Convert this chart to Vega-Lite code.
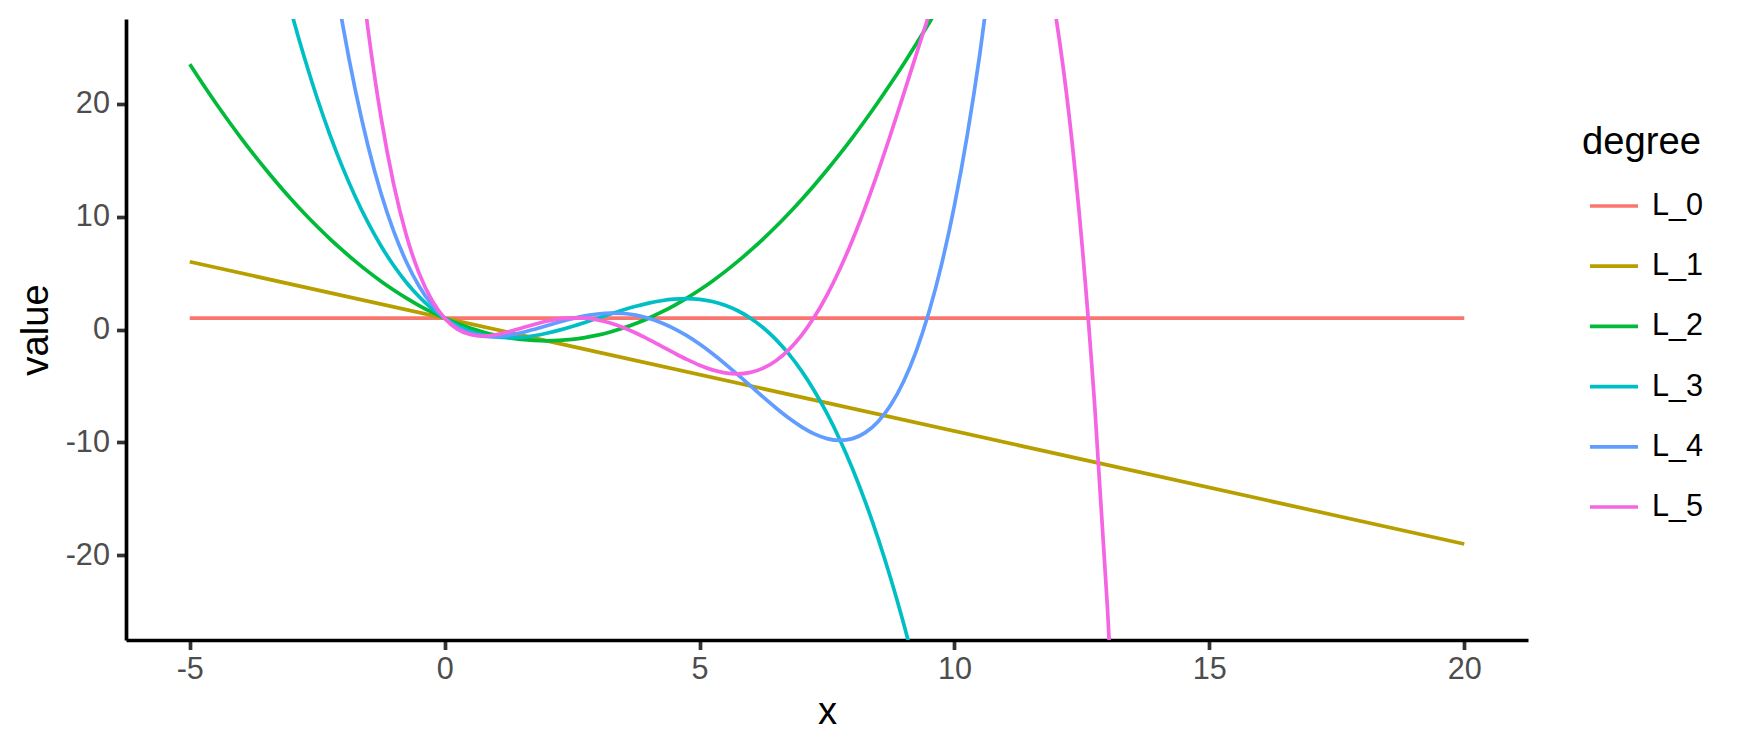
{
  "$schema": "https://vega.github.io/schema/vega-lite/v6.json",
  "width": 1402,
  "height": 621,
  "autosize": {"type": "none"},
  "padding": {"left": 126, "top": 19, "right": 222, "bottom": 110},
  "background": "white",
  "config": {"view": {"stroke": null}, "font": "Liberation Sans"},
  "data": {"values": [
    {"degree": "L_0", "x": -5, "value": 1},
    {"degree": "L_0", "x": 20, "value": 1},
    {"degree": "L_1", "x": -5, "value": 6},
    {"degree": "L_1", "x": 20, "value": -19},
    {"degree": "L_2", "x": -5, "value": 23.5},
    {"degree": "L_2", "x": -4.75, "value": 21.7813},
    {"degree": "L_2", "x": -4.5, "value": 20.125},
    {"degree": "L_2", "x": -4.25, "value": 18.5313},
    {"degree": "L_2", "x": -4, "value": 17},
    {"degree": "L_2", "x": -3.75, "value": 15.5313},
    {"degree": "L_2", "x": -3.5, "value": 14.125},
    {"degree": "L_2", "x": -3.25, "value": 12.7813},
    {"degree": "L_2", "x": -3, "value": 11.5},
    {"degree": "L_2", "x": -2.75, "value": 10.2813},
    {"degree": "L_2", "x": -2.5, "value": 9.125},
    {"degree": "L_2", "x": -2.25, "value": 8.0313},
    {"degree": "L_2", "x": -2, "value": 7},
    {"degree": "L_2", "x": -1.75, "value": 6.0313},
    {"degree": "L_2", "x": -1.5, "value": 5.125},
    {"degree": "L_2", "x": -1.25, "value": 4.2813},
    {"degree": "L_2", "x": -1, "value": 3.5},
    {"degree": "L_2", "x": -0.75, "value": 2.7813},
    {"degree": "L_2", "x": -0.5, "value": 2.125},
    {"degree": "L_2", "x": -0.25, "value": 1.5313},
    {"degree": "L_2", "x": 0, "value": 1},
    {"degree": "L_2", "x": 0.25, "value": 0.5313},
    {"degree": "L_2", "x": 0.5, "value": 0.125},
    {"degree": "L_2", "x": 0.75, "value": -0.2188},
    {"degree": "L_2", "x": 1, "value": -0.5},
    {"degree": "L_2", "x": 1.25, "value": -0.7188},
    {"degree": "L_2", "x": 1.5, "value": -0.875},
    {"degree": "L_2", "x": 1.75, "value": -0.9688},
    {"degree": "L_2", "x": 2, "value": -1},
    {"degree": "L_2", "x": 2.25, "value": -0.9688},
    {"degree": "L_2", "x": 2.5, "value": -0.875},
    {"degree": "L_2", "x": 2.75, "value": -0.7188},
    {"degree": "L_2", "x": 3, "value": -0.5},
    {"degree": "L_2", "x": 3.25, "value": -0.2188},
    {"degree": "L_2", "x": 3.5, "value": 0.125},
    {"degree": "L_2", "x": 3.75, "value": 0.5313},
    {"degree": "L_2", "x": 4, "value": 1},
    {"degree": "L_2", "x": 4.25, "value": 1.5313},
    {"degree": "L_2", "x": 4.5, "value": 2.125},
    {"degree": "L_2", "x": 4.75, "value": 2.7813},
    {"degree": "L_2", "x": 5, "value": 3.5},
    {"degree": "L_2", "x": 5.25, "value": 4.2813},
    {"degree": "L_2", "x": 5.5, "value": 5.125},
    {"degree": "L_2", "x": 5.75, "value": 6.0313},
    {"degree": "L_2", "x": 6, "value": 7},
    {"degree": "L_2", "x": 6.25, "value": 8.0313},
    {"degree": "L_2", "x": 6.5, "value": 9.125},
    {"degree": "L_2", "x": 6.75, "value": 10.2813},
    {"degree": "L_2", "x": 7, "value": 11.5},
    {"degree": "L_2", "x": 7.25, "value": 12.7813},
    {"degree": "L_2", "x": 7.5, "value": 14.125},
    {"degree": "L_2", "x": 7.75, "value": 15.5313},
    {"degree": "L_2", "x": 8, "value": 17},
    {"degree": "L_2", "x": 8.25, "value": 18.5313},
    {"degree": "L_2", "x": 8.5, "value": 20.125},
    {"degree": "L_2", "x": 8.75, "value": 21.7813},
    {"degree": "L_2", "x": 9, "value": 23.5},
    {"degree": "L_2", "x": 9.25, "value": 25.2813},
    {"degree": "L_2", "x": 9.5, "value": 27.125},
    {"degree": "L_2", "x": 9.75, "value": 29.0313},
    {"degree": "L_3", "x": -3.25, "value": 32.3151},
    {"degree": "L_3", "x": -3, "value": 28},
    {"degree": "L_3", "x": -2.75, "value": 24.0599},
    {"degree": "L_3", "x": -2.5, "value": 20.4792},
    {"degree": "L_3", "x": -2.25, "value": 17.2422},
    {"degree": "L_3", "x": -2, "value": 14.3333},
    {"degree": "L_3", "x": -1.75, "value": 11.737},
    {"degree": "L_3", "x": -1.5, "value": 9.4375},
    {"degree": "L_3", "x": -1.25, "value": 7.4193},
    {"degree": "L_3", "x": -1, "value": 5.6667},
    {"degree": "L_3", "x": -0.75, "value": 4.1641},
    {"degree": "L_3", "x": -0.5, "value": 2.8958},
    {"degree": "L_3", "x": -0.25, "value": 1.8464},
    {"degree": "L_3", "x": 0, "value": 1},
    {"degree": "L_3", "x": 0.25, "value": 0.3411},
    {"degree": "L_3", "x": 0.5, "value": -0.1458},
    {"degree": "L_3", "x": 0.75, "value": -0.4766},
    {"degree": "L_3", "x": 1, "value": -0.6667},
    {"degree": "L_3", "x": 1.25, "value": -0.7318},
    {"degree": "L_3", "x": 1.5, "value": -0.6875},
    {"degree": "L_3", "x": 1.75, "value": -0.5495},
    {"degree": "L_3", "x": 2, "value": -0.3333},
    {"degree": "L_3", "x": 2.25, "value": -0.0547},
    {"degree": "L_3", "x": 2.5, "value": 0.2708},
    {"degree": "L_3", "x": 2.75, "value": 0.6276},
    {"degree": "L_3", "x": 3, "value": 1},
    {"degree": "L_3", "x": 3.25, "value": 1.3724},
    {"degree": "L_3", "x": 3.5, "value": 1.7292},
    {"degree": "L_3", "x": 3.75, "value": 2.0547},
    {"degree": "L_3", "x": 4, "value": 2.3333},
    {"degree": "L_3", "x": 4.25, "value": 2.5495},
    {"degree": "L_3", "x": 4.5, "value": 2.6875},
    {"degree": "L_3", "x": 4.75, "value": 2.7318},
    {"degree": "L_3", "x": 5, "value": 2.6667},
    {"degree": "L_3", "x": 5.25, "value": 2.4766},
    {"degree": "L_3", "x": 5.5, "value": 2.1458},
    {"degree": "L_3", "x": 5.75, "value": 1.6589},
    {"degree": "L_3", "x": 6, "value": 1},
    {"degree": "L_3", "x": 6.25, "value": 0.1536},
    {"degree": "L_3", "x": 6.5, "value": -0.8958},
    {"degree": "L_3", "x": 6.75, "value": -2.1641},
    {"degree": "L_3", "x": 7, "value": -3.6667},
    {"degree": "L_3", "x": 7.25, "value": -5.4193},
    {"degree": "L_3", "x": 7.5, "value": -7.4375},
    {"degree": "L_3", "x": 7.75, "value": -9.737},
    {"degree": "L_3", "x": 8, "value": -12.3333},
    {"degree": "L_3", "x": 8.25, "value": -15.2422},
    {"degree": "L_3", "x": 8.5, "value": -18.4792},
    {"degree": "L_3", "x": 8.75, "value": -22.0599},
    {"degree": "L_3", "x": 9, "value": -26},
    {"degree": "L_3", "x": 9.25, "value": -30.3151},
    {"degree": "L_4", "x": -2.5, "value": 41.7943},
    {"degree": "L_4", "x": -2.25, "value": 33.8491},
    {"degree": "L_4", "x": -2, "value": 27},
    {"degree": "L_4", "x": -1.75, "value": 21.1512},
    {"degree": "L_4", "x": -1.5, "value": 16.2109},
    {"degree": "L_4", "x": -1.25, "value": 12.0913},
    {"degree": "L_4", "x": -1, "value": 8.7083},
    {"degree": "L_4", "x": -0.75, "value": 5.9819},
    {"degree": "L_4", "x": -0.5, "value": 3.8359},
    {"degree": "L_4", "x": -0.25, "value": 2.1981},
    {"degree": "L_4", "x": 0, "value": 1},
    {"degree": "L_4", "x": 0.25, "value": 0.1772},
    {"degree": "L_4", "x": 0.5, "value": -0.3307},
    {"degree": "L_4", "x": 0.75, "value": -0.5806},
    {"degree": "L_4", "x": 1, "value": -0.625},
    {"degree": "L_4", "x": 1.25, "value": -0.5129},
    {"degree": "L_4", "x": 1.5, "value": -0.2891},
    {"degree": "L_4", "x": 1.75, "value": 0.0054},
    {"degree": "L_4", "x": 2, "value": 0.3333},
    {"degree": "L_4", "x": 2.25, "value": 0.6616},
    {"degree": "L_4", "x": 2.5, "value": 0.9609},
    {"degree": "L_4", "x": 2.75, "value": 1.2059},
    {"degree": "L_4", "x": 3, "value": 1.375},
    {"degree": "L_4", "x": 3.25, "value": 1.4507},
    {"degree": "L_4", "x": 3.5, "value": 1.4193},
    {"degree": "L_4", "x": 3.75, "value": 1.271},
    {"degree": "L_4", "x": 4, "value": 1},
    {"degree": "L_4", "x": 4.25, "value": 0.6043},
    {"degree": "L_4", "x": 4.5, "value": 0.0859},
    {"degree": "L_4", "x": 4.75, "value": -0.5493},
    {"degree": "L_4", "x": 5, "value": -1.2917},
    {"degree": "L_4", "x": 5.25, "value": -2.1274},
    {"degree": "L_4", "x": 5.5, "value": -3.0391},
    {"degree": "L_4", "x": 5.75, "value": -4.005},
    {"degree": "L_4", "x": 6, "value": -5},
    {"degree": "L_4", "x": 6.25, "value": -5.9946},
    {"degree": "L_4", "x": 6.5, "value": -6.9557},
    {"degree": "L_4", "x": 6.75, "value": -7.8462},
    {"degree": "L_4", "x": 7, "value": -8.625},
    {"degree": "L_4", "x": 7.25, "value": -9.2472},
    {"degree": "L_4", "x": 7.5, "value": -9.6641},
    {"degree": "L_4", "x": 7.75, "value": -9.8228},
    {"degree": "L_4", "x": 8, "value": -9.6667},
    {"degree": "L_4", "x": 8.25, "value": -9.1353},
    {"degree": "L_4", "x": 8.5, "value": -8.1641},
    {"degree": "L_4", "x": 8.75, "value": -6.6847},
    {"degree": "L_4", "x": 9, "value": -4.625},
    {"degree": "L_4", "x": 9.25, "value": -1.9087},
    {"degree": "L_4", "x": 9.5, "value": 1.5443},
    {"degree": "L_4", "x": 9.75, "value": 5.8179},
    {"degree": "L_4", "x": 10, "value": 11},
    {"degree": "L_4", "x": 10.25, "value": 17.1825},
    {"degree": "L_4", "x": 10.5, "value": 24.4609},
    {"degree": "L_4", "x": 10.75, "value": 32.9351},
    {"degree": "L_5", "x": -2, "value": 47.9333},
    {"degree": "L_5", "x": -1.75, "value": 36.0855},
    {"degree": "L_5", "x": -1.5, "value": 26.493},
    {"degree": "L_5", "x": -1.25, "value": 18.8517},
    {"degree": "L_5", "x": -1, "value": 12.8833},
    {"degree": "L_5", "x": -0.75, "value": 8.3334},
    {"degree": "L_5", "x": -0.5, "value": 4.9716},
    {"degree": "L_5", "x": -0.25, "value": 2.5894},
    {"degree": "L_5", "x": 0, "value": 1},
    {"degree": "L_5", "x": 0.25, "value": 0.0373},
    {"degree": "L_5", "x": 0.5, "value": -0.4456},
    {"degree": "L_5", "x": 0.75, "value": -0.5767},
    {"degree": "L_5", "x": 1, "value": -0.4667},
    {"degree": "L_5", "x": 1.25, "value": -0.2096},
    {"degree": "L_5", "x": 1.5, "value": 0.1164},
    {"degree": "L_5", "x": 1.75, "value": 0.4474},
    {"degree": "L_5", "x": 2, "value": 0.7333},
    {"degree": "L_5", "x": 2.25, "value": 0.937},
    {"degree": "L_5", "x": 2.5, "value": 1.0326},
    {"degree": "L_5", "x": 2.75, "value": 1.0053},
    {"degree": "L_5", "x": 3, "value": 0.85},
    {"degree": "L_5", "x": 3.25, "value": 0.5703},
    {"degree": "L_5", "x": 3.5, "value": 0.1779},
    {"degree": "L_5", "x": 3.75, "value": -0.3092},
    {"degree": "L_5", "x": 4, "value": -0.8667},
    {"degree": "L_5", "x": 4.25, "value": -1.4655},
    {"degree": "L_5", "x": 4.5, "value": -2.0727},
    {"degree": "L_5", "x": 4.75, "value": -2.6523},
    {"degree": "L_5", "x": 5, "value": -3.1667},
    {"degree": "L_5", "x": 5.25, "value": -3.5768},
    {"degree": "L_5", "x": 5.5, "value": -3.844},
    {"degree": "L_5", "x": 5.75, "value": -3.9304},
    {"degree": "L_5", "x": 6, "value": -3.8},
    {"degree": "L_5", "x": 6.25, "value": -3.42},
    {"degree": "L_5", "x": 6.5, "value": -2.7612},
    {"degree": "L_5", "x": 6.75, "value": -1.7995},
    {"degree": "L_5", "x": 7, "value": -0.5167},
    {"degree": "L_5", "x": 7.25, "value": 1.0989},
    {"degree": "L_5", "x": 7.5, "value": 3.0508},
    {"degree": "L_5", "x": 7.75, "value": 5.3339},
    {"degree": "L_5", "x": 8, "value": 7.9333},
    {"degree": "L_5", "x": 8.25, "value": 10.8235},
    {"degree": "L_5", "x": 8.5, "value": 13.9669},
    {"degree": "L_5", "x": 8.75, "value": 17.3137},
    {"degree": "L_5", "x": 9, "value": 20.8},
    {"degree": "L_5", "x": 9.25, "value": 24.3475},
    {"degree": "L_5", "x": 9.5, "value": 27.8622},
    {"degree": "L_5", "x": 9.75, "value": 31.2336},
    {"degree": "L_5", "x": 10, "value": 34.3333},
    {"degree": "L_5", "x": 10.5, "value": 39.1117},
    {"degree": "L_5", "x": 11, "value": 40.7833},
    {"degree": "L_5", "x": 11.5, "value": 37.5904},
    {"degree": "L_5", "x": 11.75, "value": 33.5187},
    {"degree": "L_5", "x": 12, "value": 27.4},
    {"degree": "L_5", "x": 12.25, "value": 18.904},
    {"degree": "L_5", "x": 12.5, "value": 7.6732},
    {"degree": "L_5", "x": 12.75, "value": -6.6786},
    {"degree": "L_5", "x": 13, "value": -24.5667},
    {"degree": "L_5", "x": 13.25, "value": -46.4365}
  ]},
  "mark": {"type": "line", "clip": true, "strokeWidth": 3.7, "interpolate": "monotone"},
  "encoding": {
    "x": {
      "field": "x", "type": "quantitative",
      "scale": {"domain": [-6.25, 21.25], "nice": false, "zero": false},
      "axis": {
        "values": [-5, 0, 5, 10, 15, 20],
        "labelExpr": "datum.value + ''",
        "title": "x", "grid": false,
        "domainColor": "black", "domainWidth": 3.7,
        "tickColor": "#333333", "tickWidth": 3.7, "tickSize": 9.5,
        "labelFontSize": 30.6, "labelColor": "#4D4D4D", "labelPadding": 4.5, "labelFlush": false,
        "titleFontSize": 38.2, "titleFontWeight": "normal", "titleColor": "black",
        "titleBaseline": "alphabetic", "titleY": 83.3
      }
    },
    "y": {
      "field": "value", "type": "quantitative",
      "scale": {"domain": [-27.5, 27.5], "nice": false, "zero": false},
      "axis": {
        "values": [-20, -10, 0, 10, 20],
        "labelExpr": "datum.value + ''",
        "title": "value", "grid": false,
        "domainColor": "black", "domainWidth": 3.7,
        "tickColor": "#333333", "tickWidth": 3.7, "tickSize": 9.5,
        "labelFontSize": 30.6, "labelColor": "#4D4D4D", "labelPadding": 7.1, "labelFlush": false,
        "titleFontSize": 38.2, "titleFontWeight": "normal", "titleColor": "black",
        "titleBaseline": "alphabetic", "titleX": -79, "titleY": 310.5
      }
    },
    "color": {
      "field": "degree", "type": "nominal",
      "scale": {
        "domain": ["L_0", "L_1", "L_2", "L_3", "L_4", "L_5"],
        "range": ["#F8766D", "#B79F00", "#00BA38", "#00BFC4", "#619CFF", "#F564E3"]
      },
      "legend": {
        "orient": "none", "legendX": 1456, "legendY": 104.5,
        "title": "degree", "titleFontSize": 38.2, "titleFontWeight": "normal", "titleColor": "black",
        "titlePadding": 18.3,
        "labelFontSize": 30.6, "labelColor": "black",
        "symbolType": "stroke", "symbolSize": 2304, "symbolStrokeWidth": 3.7,
        "symbolOffset": 6, "labelOffset": 12, "rowPadding": 18.2, "padding": 0
      }
    }
  }
}
